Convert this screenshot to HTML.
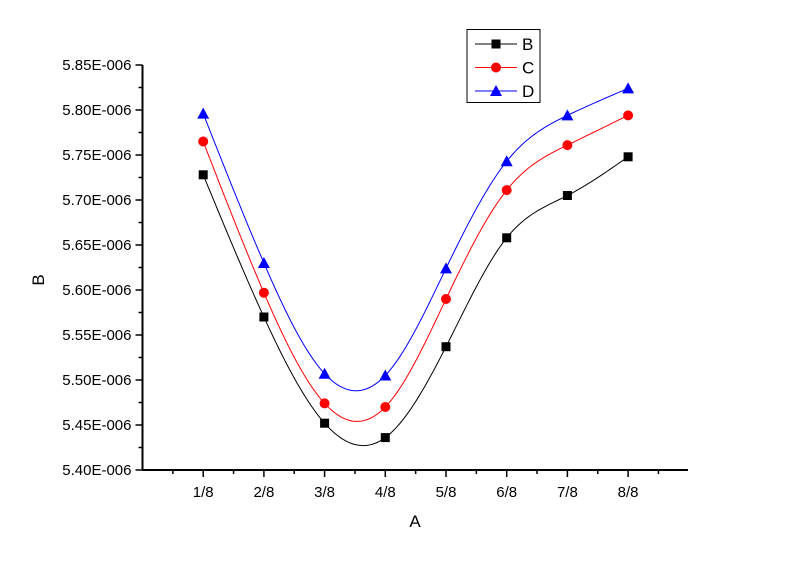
<!DOCTYPE html>
<html><head><meta charset="utf-8"><style>
body{margin:0;background:#fff}
svg{display:block;font-family:"Liberation Sans",Arial,sans-serif}
</style></head><body>
<svg id="c" width="800" height="564"></svg>
<script>
const categories=["1/8","2/8","3/8","4/8","5/8","6/8","7/8","8/8"];
const seriesB=[5.728,5.570,5.452,5.436,5.537,5.658,5.705,5.748];
const seriesC=[5.765,5.597,5.474,5.470,5.590,5.711,5.761,5.794];
const seriesD=[5.796,5.630,5.507,5.505,5.624,5.743,5.794,5.824];
const yTicks=[5.40,5.45,5.50,5.55,5.60,5.65,5.70,5.75,5.80,5.85];
const yTickLabels=["5.40E-006","5.45E-006","5.50E-006","5.55E-006","5.60E-006","5.65E-006","5.70E-006","5.75E-006","5.80E-006","5.85E-006"];
const seriesNames=["B","C","D"];
const NS="http://www.w3.org/2000/svg",svg=document.getElementById('c');
const X0=142.5,XS=60.7,Y0=470,YS=45/0.05;
const xs=i=>X0+XS*(i+1);
const ys=v=>Y0-(v-5.40)*YS;
function el(t,a,p){const e=document.createElementNS(NS,t);for(const k in a)e.setAttribute(k,a[k]);(p||svg).appendChild(e);return e;}
const ax=el('g',{});


el('line',{x1:X0,y1:ys(5.85),x2:X0,y2:Y0,stroke:'#000','stroke-width':2},ax);
el('line',{x1:X0,y1:Y0,x2:688,y2:Y0,stroke:'#000','stroke-width':2},ax);
yTicks.forEach((v,i)=>{
  el('line',{x1:X0-7,y1:ys(v),x2:X0,y2:ys(v),stroke:'#000','stroke-width':1.5},ax);
  if(i<yTicks.length-1)el('line',{x1:X0-4,y1:ys(v+0.025),x2:X0,y2:ys(v+0.025),stroke:'#000','stroke-width':1.5},ax);
  const t=el('text',{x:X0-11,y:ys(v)+5,'text-anchor':'end','font-size':15},ax);t.textContent=yTickLabels[i];
  
  
});
for(let i=-1;i<=7;i++){
  const x=xs(i);
  if(i>=0){el('line',{x1:x,y1:Y0,x2:x,y2:Y0+7,stroke:'#000','stroke-width':1.5},ax);
    const t=el('text',{x:x,y:Y0+27,'text-anchor':'middle','font-size':15},ax);t.textContent=categories[i];
    
    }
  el('line',{x1:x+XS/2,y1:Y0,x2:x+XS/2,y2:Y0+4,stroke:'#000','stroke-width':1.5},ax);
}
const xt=el('text',{x:415,y:527,'text-anchor':'middle','font-size':17});xt.textContent='A';


const yt=el('text',{x:0,y:0,'text-anchor':'middle','font-size':17,transform:'translate(44,280) rotate(-90)'});yt.textContent='B';


function spline(px,py){
  const n=px.length,h=[],a=[],l=[1],mu=[0],z=[0],c=new Array(n).fill(0),b=[],d=[];
  for(let i=0;i<n-1;i++)h.push(px[i+1]-px[i]);
  for(let i=1;i<n-1;i++)a[i]=3/h[i]*(py[i+1]-py[i])-3/h[i-1]*(py[i]-py[i-1]);
  for(let i=1;i<n-1;i++){l[i]=2*(px[i+1]-px[i-1])-h[i-1]*mu[i-1];mu[i]=h[i]/l[i];z[i]=(a[i]-h[i-1]*z[i-1])/l[i];}
  l[n-1]=1;z[n-1]=0;
  for(let j=n-2;j>=0;j--){c[j]=z[j]-mu[j]*c[j+1];b[j]=(py[j+1]-py[j])/h[j]-h[j]*(c[j+1]+2*c[j])/3;d[j]=(c[j+1]-c[j])/(3*h[j]);}
  let s='M'+px[0]+','+py[0];
  for(let j=0;j<n-1;j++)for(let k=1;k<=20;k++){const t=h[j]*k/20;s+=' L'+(px[j]+t).toFixed(2)+','+(py[j]+b[j]*t+c[j]*t*t+d[j]*t*t*t).toFixed(2);}
  return s;
}
function marker(type,x,y,col,g){
  if(type==0)return el('rect',{x:x-4.5,y:y-4.5,width:9,height:9,fill:col},g);
  if(type==1)return el('circle',{cx:x,cy:y,r:5,fill:col},g);
  return el('polygon',{points:`${x},${y-6} ${x+6},${y+5} ${x-6},${y+5}`,fill:col},g);
}
const all=[seriesB,seriesC,seriesD],cols=['#000','#f00','#00f'];
all.forEach((s,si)=>{
  const g=el('g',{});
  
  
  const px=s.map((v,i)=>xs(i)),py=s.map(v=>ys(v));
  el('path',{d:spline(px,py),fill:'none',stroke:cols[si],'stroke-width':1},g);
  s.forEach((v,i)=>{const m=marker(si,xs(i),ys(v),cols[si],g);
    
    });
});
const lg=el('g',{});


el('rect',{x:467,y:29.5,width:73,height:73,fill:'#fff',stroke:'#000','stroke-width':1},lg);
seriesNames.forEach((n,i)=>{
  const y=44+i*23.5,e=el('g',{},lg);
  
  
  el('line',{x1:475,y1:y,x2:517,y2:y,stroke:cols[i],'stroke-width':1},e);
  marker(i,496,y,cols[i],e);
  const t=el('text',{x:522,y:y+6,'font-size':17},e);t.textContent=n;
});
</script>
</body></html>
